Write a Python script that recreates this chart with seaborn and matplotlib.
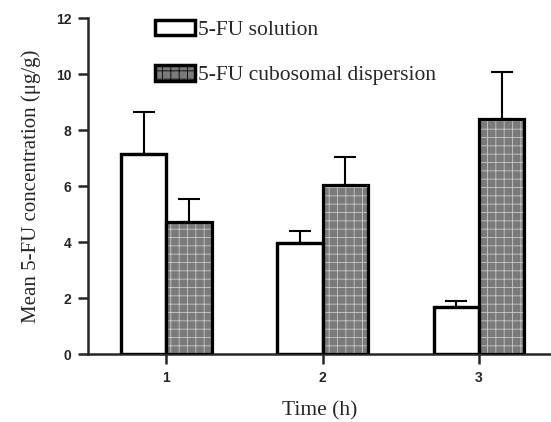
import matplotlib
matplotlib.use("Agg")
import matplotlib.pyplot as plt
import pandas as pd
import seaborn as sns
from matplotlib.patches import Rectangle

# values
times = ["1", "2", "3"]
solution = [7.14, 3.96, 1.68]
solution_err = [1.50, 0.43, 0.22]
cubosome = [4.71, 6.04, 8.38]
cubosome_err = [0.83, 1.00, 1.69]
groups = ["5-FU solution", "5-FU cubosomal dispersion"]

df = pd.DataFrame({
    "time": times * 2,
    "conc": solution + cubosome,
    "err": solution_err + cubosome_err,
    "group": [groups[0]] * 3 + [groups[1]] * 3,
})

sns.set_style("ticks")
plt.rcParams["hatch.linewidth"] = 0.6

fig = plt.figure(figsize=(5.51, 4.22), dpi=100)
ax = fig.add_axes([0.16, 0.161, 0.84, 0.796])

sns.barplot(data=df, x="time", y="conc", hue="group", hue_order=groups,
            palette=["white", "#7a7a7a"], width=0.58, errorbar=None,
            saturation=1, legend=False, ax=ax)

# grey bars get a light grid hatch; black outlines drawn on top
bars = ax.patches[:6]
for i, p in enumerate(bars):
    if i >= 3:
        p.set_hatch("++")
        p.set_edgecolor("#c8c8c8")
        p.set_linewidth(0)
    else:
        p.set_edgecolor("black")
        p.set_linewidth(2.3)
    ax.add_patch(Rectangle(p.get_xy(), p.get_width(), p.get_height(), fill=False,
                           edgecolor="black", linewidth=2.3, zorder=3))
    x = p.get_x() + p.get_width() / 2
    e = df["err"].iloc[i]
    ax.errorbar(x, p.get_height(), yerr=[[0], [e]], fmt="none", ecolor="black",
                elinewidth=1.5, capsize=8, capthick=1.5, zorder=2)

ax.set_xlim(-0.5, 2.46)
ax.set_ylim(0, 12)
ax.set_yticks([0, 2, 4, 6, 8, 10, 12])
sns.despine(ax=ax)
for s in ["left", "bottom"]:
    ax.spines[s].set_linewidth(1.8)
ax.tick_params(width=1.8, length=7, pad=5, labelsize=10, direction="out")
for t in ax.get_xticklabels() + ax.get_yticklabels():
    t.set_fontweight("bold")
    t.set_family("Liberation Sans")

ax.set_xlabel("Time (h)", family="Liberation Serif", fontsize=15.5, labelpad=12)
ax.set_ylabel("Mean 5-FU concentration (μg/g)", family="Liberation Serif",
              fontsize=15, labelpad=11)

h1 = Rectangle((0, 0), 1, 1, facecolor="white", edgecolor="black", linewidth=2.5)
h2 = Rectangle((0, 0), 1, 1, facecolor="#7a7a7a", edgecolor="black", linewidth=2.5,
               hatch="++")
fig.legend([h1, h2], groups, loc="upper left", bbox_to_anchor=(0.281, 0.953),
           frameon=False, prop={"family": "Liberation Serif", "size": 15.5},
           borderpad=0, borderaxespad=0,
           handlelength=1.85, handleheight=0.74, handletextpad=0.15,
           labelspacing=1.15)

fig.savefig("out.png", dpi=100)
